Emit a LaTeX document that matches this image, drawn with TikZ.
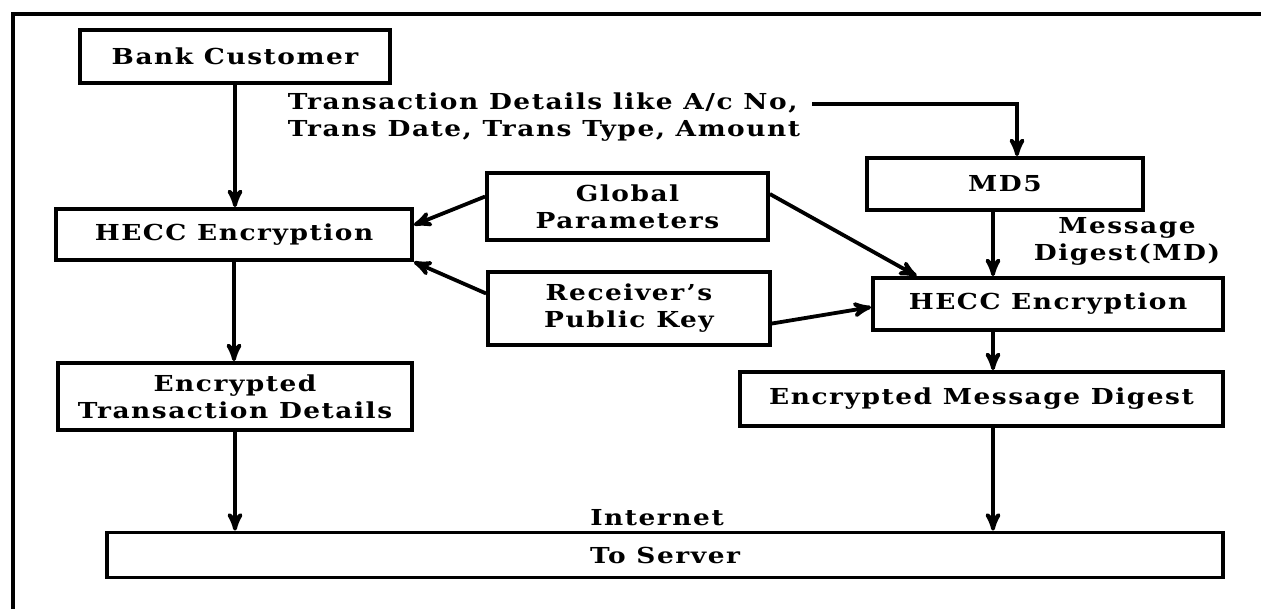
\documentclass[tikz,border=0pt]{standalone}
\usepackage{fontspec}
\setmainfont{DejaVu Serif}[FakeStretch=1.2, LetterSpace=7]
\usetikzlibrary{arrows}

\begin{document}
\begin{tikzpicture}[x=0.5pt, y=-0.5pt, >=stealth', line width=1.9pt]

\tikzstyle{every node}=[font=\bfseries\fontsize{11}{13.5}\selectfont, inner sep=0pt]
\tikzstyle{blk}=[draw, rectangle, align=center, line width=1.9pt]
\useasboundingbox (0,0) rectangle (1261,609);
\draw[line width=2.3pt] (1261,14) -- (13,14) -- (13,609);

% left column
\draw (235,56.5) node[blk, minimum width=155pt, minimum height=26.5pt] (cust) {Bank Customer}
      (234,234.5) node[blk, minimum width=178pt, minimum height=25.5pt] (hencl) {HECC Encryption}
      (235,396.5) node[blk, minimum width=177pt, minimum height=33.5pt] (etd) {Encrypted\\Transaction Details};
% middle
\draw (627.5,206.5) node[blk, minimum width=140.5pt, minimum height=33.5pt] (glob) {Global\\Parameters}
      (629,308.5) node[blk, minimum width=141pt, minimum height=36.5pt] (recv) {Receiver’s\\Public Key};
% right column
\draw (1005,184) node[blk, minimum width=138pt, minimum height=26pt] (md5) {MD5}
      (1048,304) node[blk, minimum width=175pt, minimum height=26pt] (hencr) {HECC Encryption}
      (981.5,399) node[blk, minimum width=241.5pt, minimum height=27pt] (emd) {Encrypted Message Digest};
\draw (665,555) node[blk, minimum width=558pt, minimum height=22.5pt] (server) {To Server};

% labels
\draw (544,117) node[align=left] (trans) {Transaction Details like A/c No,\\Trans Date, Trans Type, Amount}
      (1127,241) node[align=center] (mdlbl) {Message\\Digest(MD)}
      (657,518) node (inet) {Internet};

\draw[->] (cust) -- (cust |- hencl.north);
\draw[->] (hencl) -- (hencl |- etd.north);
\draw[->] (etd) -- (etd |- server.north);
\draw[->] (glob.176) -- (hencl.3);
\draw[->] (recv.174.5) -- (hencl.south east);
\draw[->] (glob.5.5) -- (hencr.168.8);
\draw[->] (recv.-6.7) -- (hencr.181.3);
\draw[->] ([xshift=5pt,yshift=6.5pt]trans.east) -| ([xshift=6pt]md5.north);
\draw[->] ([xshift=-6pt]md5.south) -- ([xshift=-6pt]md5.south |- hencr.north);
\draw[->] ([xshift=-27.5pt]hencr.south) -- ([xshift=-27.5pt]hencr.south |- emd.north);
\draw[->] ([xshift=5.75pt]emd.south) -- ([xshift=5.75pt]emd.south |- server.north);

\end{tikzpicture}
\end{document}
